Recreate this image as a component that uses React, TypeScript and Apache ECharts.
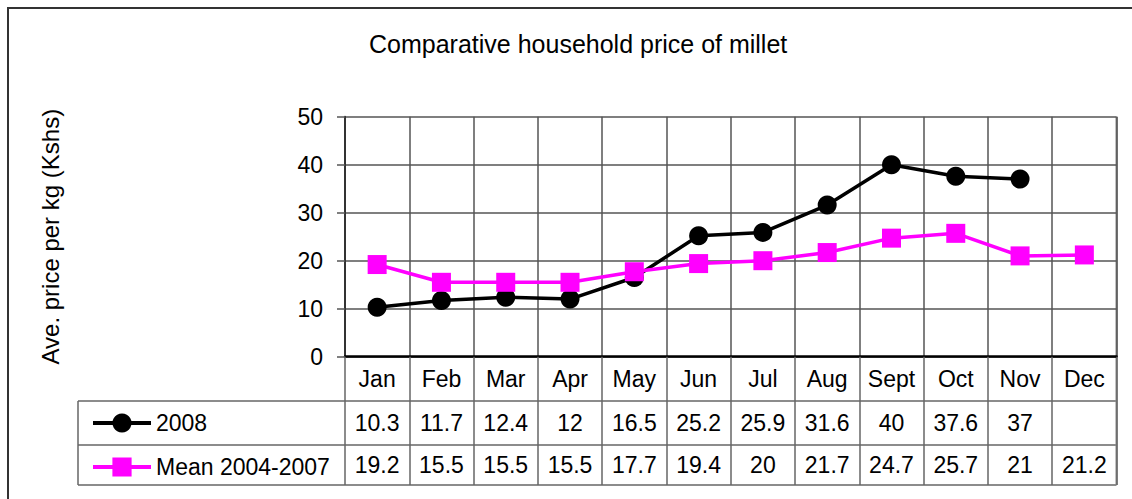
import React, { useEffect, useRef } from "react";
import * as echarts from "echarts";

const titleText = "Comparative household price of millet";
const yAxisName = "Ave. price per kg (Kshs)";
const months = ["Jan", "Feb", "Mar", "Apr", "May", "Jun", "Jul", "Aug", "Sept", "Oct", "Nov", "Dec"];
const prices2008: (number | null)[] = [10.3, 11.7, 12.4, 12, 16.5, 25.2, 25.9, 31.6, 40, 37.6, 37, null];
const mean20042007: (number | null)[] = [19.2, 15.5, 15.5, 15.5, 17.7, 19.4, 20, 21.7, 24.7, 25.7, 21, 21.2];
const seriesNames = ["2008", "Mean 2004-2007"];
const yMin = 0;
const yMax = 50;
const yInterval = 10;

const FONT = "'Liberation Sans', Arial, Helvetica, sans-serif";

export default function App() {
  const ref = useRef<HTMLDivElement>(null);

  useEffect(() => {
    document.body.style.margin = "0";
    if (!ref.current) return;
    const chart = echarts.init(ref.current, undefined, { renderer: "svg" });

    const gridLeft = 345;
    const gridTop = 116.7;
    const gridW = 771.5;
    const gridH = 240;
    const gridRight = gridLeft + gridW;
    const gridBottom = gridTop + gridH;
    const tableLeft = 78;
    const row1Top = 401;
    const row2Top = 445;
    const tableBottom = 485;
    const tableLine = { stroke: "#666", lineWidth: 1.5 };
    const labelSize = 23;

    const fmt = (v: number | null) => (v == null ? "" : String(v));

    const rowAxis = (data: string[], offset: number) => ({
      type: "category",
      gridIndex: 0,
      position: "bottom",
      offset,
      data,
      boundaryGap: true,
      axisLine: { show: false },
      axisTick: { show: false },
      splitLine: { show: false },
      axisLabel: {
        interval: 0,
        margin: 22,
        verticalAlign: "middle",
        fontSize: labelSize,
        color: "#000",
        fontFamily: FONT,
      },
    });

    chart.setOption({
      animation: false,
      backgroundColor: "#fff",
      title: {
        text: titleText,
        left: 364,
        top: 25,
        textStyle: { fontSize: 25, fontWeight: "normal", color: "#000", fontFamily: FONT, lineHeight: 27 },
      },
      legend: {
        orient: "vertical",
        left: 86,
        top: 406,
        itemWidth: 58,
        itemHeight: 24,
        itemGap: 20,
        selectedMode: false,
        data: seriesNames,
        lineStyle: { width: 4 },
        textStyle: { fontSize: labelSize, color: "#000", fontFamily: FONT, lineHeight: 24 },
      },
      grid: { left: gridLeft, top: gridTop, width: gridW, height: gridH, containLabel: false },
      xAxis: [
        {
          type: "category",
          data: months,
          boundaryGap: true,
          axisLine: { show: true, lineStyle: { color: "#000", width: 2.5 } },
          axisTick: { show: true, length: tableBottom - gridBottom, lineStyle: { color: "#666", width: 1.5 } },
          splitLine: { show: true, interval: 0, lineStyle: { color: "#555", width: 1.5 } },
          axisLabel: {
            interval: 0,
            margin: 22,
            verticalAlign: "middle",
            fontSize: labelSize,
            color: "#000",
            fontFamily: FONT,
          },
        },
        rowAxis(prices2008.map(fmt), 44.3),
        rowAxis(mean20042007.map(fmt), 86.3),
      ],
      yAxis: {
        type: "value",
        min: yMin,
        max: yMax,
        interval: yInterval,
        name: yAxisName,
        nameLocation: "middle",
        nameRotate: 90,
        nameGap: 283,
        nameTextStyle: { fontSize: 24, color: "#000", fontFamily: FONT },
        axisLine: { show: true, lineStyle: { color: "#333", width: 2 } },
        axisTick: { show: true, length: 8, lineStyle: { color: "#555", width: 1.5 } },
        splitLine: { show: true, lineStyle: { color: "#555", width: 1.5 } },
        axisLabel: { margin: 22, fontSize: labelSize, color: "#000", fontFamily: FONT },
      },
      series: [
        {
          name: seriesNames[0],
          type: "line",
          data: prices2008,
          symbol: "circle",
          symbolSize: 19,
          connectNulls: false,
          lineStyle: { color: "#000", width: 3.5 },
          itemStyle: { color: "#000" },
        },
        {
          name: seriesNames[1],
          type: "line",
          data: mean20042007,
          symbol: "rect",
          symbolSize: 19,
          lineStyle: { color: "#ff00ff", width: 3.5 },
          itemStyle: { color: "#ff00ff" },
        },
      ],
      graphic: [
        {
          type: "rect",
          silent: true,
          shape: { x: 8, y: 8, width: 1300, height: 700 },
          style: { fill: "none", stroke: "#333", lineWidth: 2 },
        },
        { type: "line", silent: true, shape: { x1: tableLeft, y1: row1Top, x2: gridRight, y2: row1Top }, style: tableLine },
        { type: "line", silent: true, shape: { x1: tableLeft, y1: row2Top, x2: gridRight, y2: row2Top }, style: tableLine },
        { type: "line", silent: true, shape: { x1: tableLeft, y1: tableBottom, x2: gridRight, y2: tableBottom }, style: tableLine },
        { type: "line", silent: true, shape: { x1: tableLeft, y1: row1Top, x2: tableLeft, y2: tableBottom }, style: tableLine },
        { type: "line", silent: true, shape: { x1: gridRight, y1: gridTop, x2: gridRight, y2: tableBottom }, style: { stroke: "#888", lineWidth: 2 } },
      ],
    });

    return () => chart.dispose();
  }, []);

  return <div ref={ref} style={{ width: 1132, height: 499 }} />;
}
